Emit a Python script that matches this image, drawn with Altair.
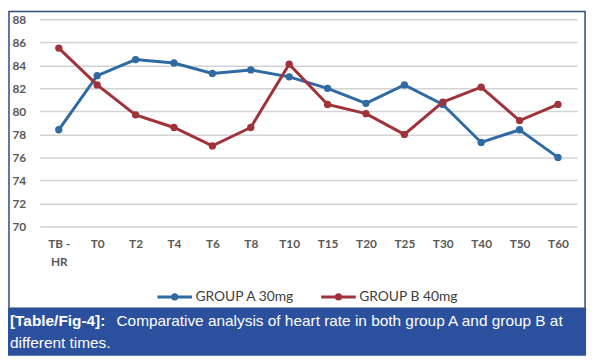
import altair as alt
import pandas as pd

times = ["TB-HR", "T0", "T2", "T4", "T6", "T8", "T10", "T15", "T20", "T25", "T30", "T40", "T50", "T60"]
group_a = [78.4, 83.1, 84.5, 84.2, 83.3, 83.6, 83.0, 82.0, 80.7, 82.3, 80.6, 77.3, 78.4, 76.0]
group_b = [85.5, 82.3, 79.7, 78.6, 77.0, 78.6, 84.1, 80.6, 79.8, 78.0, 80.8, 82.1, 79.2, 80.6]
series = ["GROUP A 30mg", "GROUP B 40mg"]
colors = ["#2f6aa3", "#a0323a"]
y_ticks = [70, 72, 74, 76, 78, 80, 82, 84, 86, 88]
caption_bold = "[Table/Fig-4]:"
caption_line1 = "Comparative analysis of heart rate in both group A and group B at"
caption_line2 = "different times."

df = pd.DataFrame({
    "time": times * 2,
    "hr": group_a + group_b,
    "group": [series[0]] * len(times) + [series[1]] * len(times),
})

W, H = 545, 210

legend_path = "M-1,0H1M-0.12,0A0.12,0.12 0 1,1 0.12,0A0.12,0.12 0 1,1 -0.12,0"

x_enc = alt.X(
    "time:N", sort=times, title=None,
    scale=alt.Scale(padding=0.5),
    axis=alt.Axis(
        domain=False, ticks=False, grid=False, labelAngle=0, labelPadding=12,
        labelFont="Lato", labelFontSize=12, labelColor="#595959", labelFontWeight="bold",
        labelLineHeight=19,
        labelExpr="datum.value == 'TB-HR' ? ['TB -', 'HR'] : datum.value",
    ),
)
y_enc = alt.Y(
    "hr:Q", title=None,
    scale=alt.Scale(domain=[70, 88], nice=False, zero=False),
    axis=alt.Axis(
        values=y_ticks, domain=False, ticks=False, grid=True, gridColor="#d3d3d3",
        gridWidth=1.5, labelPadding=14, labelFont="Lato", labelFontSize=12,
        labelColor="#595959", labelFontWeight="bold",
    ),
)
color_enc = alt.Color(
    "group:N",
    scale=alt.Scale(domain=series, range=colors),
    legend=alt.Legend(
        orient="none", legendX=118, legendY=262, direction="horizontal", title=None,
        symbolType=legend_path, symbolSize=1225, symbolStrokeWidth=3,
        labelFont="Lato", labelFontSize=14, labelColor="#404040", columnPadding=20,
        labelOffset=2,
    ),
)

lines = alt.Chart(df).mark_line(strokeWidth=3).encode(x=x_enc, y=y_enc, color=color_enc)
points = alt.Chart(df).mark_point(filled=True, size=55, opacity=1).encode(
    x=x_enc, y=y_enc, color=color_enc
)

one = pd.DataFrame({"k": [0]})
border = alt.Chart(one).mark_rect(fillOpacity=0, stroke="#2d4b7d", strokeWidth=1.5).encode(
    x=alt.value(-31), x2=alt.value(553), y=alt.value(-8), y2=alt.value(293)
)
band = alt.Chart(one).mark_rect(fill="#2a509e").encode(
    x=alt.value(-32), x2=alt.value(554), y=alt.value(293), y2=alt.value(341)
)
cap_b = alt.Chart(one).mark_text(
    align="left", baseline="alphabetic", font="Liberation Sans", fontSize=15.6,
    fontWeight="bold", color="white"
).encode(x=alt.value(-30), y=alt.value(311), text=alt.value(caption_bold))
cap_1 = alt.Chart(one).mark_text(
    align="left", baseline="alphabetic", font="Liberation Sans", fontSize=15.6, color="white"
).encode(x=alt.value(78), y=alt.value(311), text=alt.value(caption_line1))
cap_2 = alt.Chart(one).mark_text(
    align="left", baseline="alphabetic", font="Liberation Sans", fontSize=15.6, color="white"
).encode(x=alt.value(-30), y=alt.value(333), text=alt.value(caption_line2))

chart = alt.layer(border, band, cap_b, cap_1, cap_2, lines, points).properties(
    width=W, height=H, autosize="none",
    padding={"left": 32, "top": 9, "right": 13, "bottom": 137},
    background="white",
).configure_view(stroke=None)

chart.save("out.html", embed_options={"renderer": "svg", "actions": False})
